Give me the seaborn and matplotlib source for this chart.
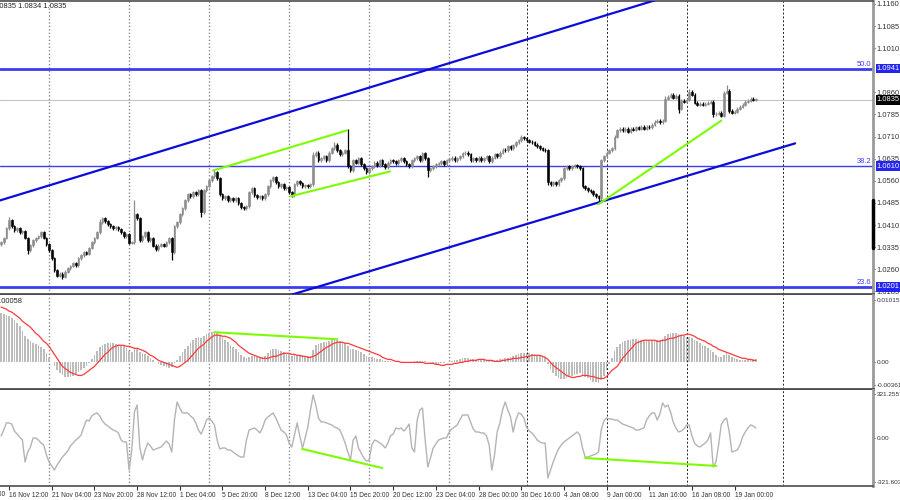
import numpy as np
import pandas as pd
import matplotlib
matplotlib.use("Agg")
import matplotlib.pyplot as plt
import matplotlib.transforms as mtransforms
import seaborn as sns

# ---- price data (H4 candles), closes in pips (1e-4) ----
first_open = 10345
close_pips = [
    10352, 10366, 10399, 10426, 10406, 10393, 10399, 10386, 10389, 10366, 10325, 10342, 10359, 10366, 10372, 10386, 10366, 10345, 10325, 10298,
    10257, 10237, 10244, 10234, 10251, 10264, 10271, 10281, 10274, 10298, 10308, 10318, 10312, 10332, 10352, 10366, 10386, 10420, 10433, 10423,
    10413, 10406, 10399, 10403, 10396, 10386, 10372, 10379, 10349, 10352, 10447, 10433, 10359, 10372, 10386, 10359, 10366, 10339, 10328, 10339,
    10345, 10339, 10352, 10366, 10318, 10406, 10420, 10447, 10467, 10494, 10514, 10508, 10521, 10514, 10528, 10453, 10528, 10541, 10562, 10575,
    10589, 10568, 10514, 10501, 10508, 10494, 10501, 10494, 10501, 10484, 10470, 10467, 10474, 10521, 10535, 10511, 10504, 10508, 10501, 10514,
    10541, 10562, 10572, 10555, 10541, 10548, 10535, 10538, 10521, 10511, 10548, 10558, 10551, 10541, 10545, 10541, 10548, 10646, 10656, 10629,
    10636, 10643, 10629, 10656, 10670, 10683, 10663, 10650, 10656, 10663, 10609, 10595, 10629, 10622, 10636, 10616, 10602, 10589, 10602, 10609,
    10622, 10612, 10629, 10616, 10606, 10622, 10629, 10626, 10619, 10629, 10636, 10626, 10616, 10609, 10629, 10636, 10643, 10629, 10653, 10636,
    10595, 10602, 10609, 10616, 10619, 10626, 10616, 10629, 10633, 10639, 10629, 10636, 10643, 10653, 10656, 10650, 10629, 10636, 10629, 10639,
    10629, 10636, 10643, 10626, 10639, 10650, 10643, 10656, 10666, 10663, 10677, 10670, 10680, 10690, 10697, 10707, 10704, 10697, 10693, 10690,
    10683, 10677, 10670, 10666, 10663, 10555, 10548, 10555, 10548, 10562, 10568, 10602, 10609, 10602, 10609, 10612, 10609, 10602, 10541, 10535,
    10528, 10524, 10514, 10508, 10501, 10629, 10643, 10656, 10663, 10670, 10710, 10731, 10737, 10731, 10737, 10727, 10737, 10734, 10741, 10737,
    10744, 10737, 10744, 10741, 10751, 10761, 10764, 10758, 10764, 10839, 10846, 10852, 10842, 10849, 10805, 10832, 10829, 10835, 10862, 10852,
    10825, 10818, 10822, 10818, 10822, 10825, 10829, 10785, 10788, 10791, 10781, 10859, 10866, 10798, 10791, 10795, 10805, 10812, 10818, 10829,
    10832, 10839, 10835, 10835,
]
# wick lengths in pips beyond the body (default for ordinary bars)
wick_default = 5
wick_hi = {3: 10, 37: 10, 50: 47, 80: 8, 117: 12, 125: 10, 130: 74, 195: 10, 249: 10, 258: 10, 272: 20}
wick_lo = {10: 12, 23: 8, 64: 27, 75: 15, 160: 22, 205: 10, 224: 17, 254: 15, 267: 8, 273: 8}

# ---- MACD (values in 1e-5) ----
macd_hist = [
    804, 787, 771, 754, 722, 689, 640, 590, 508, 426, 377, 344, 312, 295, 279, 246, 213, 148, 66, 0,
    -66, -131, -180, -213, -246, -246, -246, -230, -197, -164, -131, -98, -66, -16, 49, 115, 180, 246, 279, 295,
    312, 312, 312, 295, 295, 279, 262, 230, 180, 164, 230, 213, 164, 148, 131, 98, 66, 33, 0, -33,
    -49, -66, -82, -98, -82, -16, 33, 98, 164, 213, 262, 312, 361, 394, 410, 394, 426, 459, 476, 492,
    492, 476, 443, 410, 361, 328, 279, 246, 213, 164, 115, 82, 66, 82, 98, 98, 82, 82, 82, 98,
    148, 197, 213, 213, 197, 180, 164, 148, 131, 98, 115, 115, 115, 115, 98, 98, 98, 197, 279, 295,
    312, 328, 328, 344, 361, 377, 361, 344, 328, 312, 262, 213, 213, 197, 180, 164, 131, 98, 82, 82,
    66, 49, 49, 33, 16, 16, 16, 0, 0, 0, 0, 0, 0, 0, 0, 16, 16, 16, 16, 16,
    0, -16, -33, -33, -33, -16, -16, 0, 0, 16, 33, 33, 49, 66, 66, 66, 49, 49, 33, 33,
    33, 33, 33, 33, 33, 33, 33, 49, 49, 66, 66, 82, 98, 115, 131, 148, 148, 148, 148, 131,
    131, 115, 115, 98, 82, -33, -115, -180, -230, -262, -279, -279, -262, -246, -230, -213, -197, -180, -213, -246,
    -262, -295, -312, -328, -344, -295, -230, -131, -33, 66, 180, 246, 295, 328, 344, 361, 361, 377, 377, 361,
    361, 344, 344, 344, 344, 361, 361, 361, 377, 426, 459, 476, 476, 476, 459, 443, 426, 410, 410, 394,
    361, 344, 312, 279, 262, 230, 197, 164, 115, 82, 82, 115, 148, 115, 82, 66, 49, 33, 33, 33,
    33, 49, 49, 49,
]
macd_signal = [
    902, 886, 869, 836, 820, 787, 754, 722, 672, 640, 607, 574, 525, 476, 443, 394, 344, 312, 262, 197,
    131, 66, 0, -66, -98, -131, -164, -180, -197, -213, -213, -197, -164, -131, -98, -66, -16, 33, 82, 131,
    164, 213, 246, 262, 279, 279, 279, 262, 262, 246, 230, 230, 213, 197, 180, 148, 115, 98, 66, 33,
    16, 0, -16, -33, -49, -66, -82, -66, -33, 0, 33, 82, 131, 180, 230, 262, 295, 344, 377, 410,
    443, 443, 443, 426, 426, 410, 394, 361, 328, 279, 246, 213, 180, 148, 131, 115, 98, 82, 66, 66,
    66, 82, 98, 98, 115, 131, 148, 148, 148, 131, 131, 115, 115, 98, 98, 82, 82, 98, 115, 148,
    180, 213, 246, 262, 295, 312, 328, 328, 328, 312, 312, 295, 279, 262, 246, 230, 213, 197, 180, 164,
    148, 131, 115, 82, 66, 49, 49, 33, 16, 16, 0, 0, 0, 0, 0, 0, 0, 0, 0, -16,
    -16, -16, -16, -33, -33, -49, -49, -33, -33, -33, -16, -16, 0, 0, 16, 16, 33, 33, 33, 49,
    49, 49, 33, 33, 33, 16, 16, 16, 33, 33, 49, 49, 66, 66, 66, 82, 82, 98, 98, 115,
    115, 115, 115, 98, 82, 49, 0, -49, -82, -115, -148, -180, -213, -230, -246, -246, -230, -230, -213, -213,
    -213, -230, -230, -246, -262, -262, -262, -230, -180, -131, -98, -66, 0, 66, 115, 164, 213, 262, 312, 328,
    344, 361, 361, 361, 361, 361, 344, 344, 361, 361, 377, 394, 394, 410, 426, 443, 443, 459, 459, 443,
    426, 394, 377, 361, 344, 312, 295, 262, 246, 213, 197, 180, 164, 148, 131, 115, 98, 82, 66, 66,
    49, 49, 33, 33,
]

# ---- CCI ----
cci_vals = [
    15, 58, 110, 110, 102, 51, 29, 7, -15, -175, -102, -66, 0, 0, -15, -37, -51, -124, -175, -204,
    -234, -197, -168, -139, -117, -95, -58, -37, -15, 0, 22, 80, 131, 124, 161, 175, 183, 161, 124, 102,
    88, 73, 58, 51, 37, -15, -29, -29, -234, -88, 190, 241, -66, -161, -88, -37, -58, -88, -80, -73,
    -66, -44, -22, -44, -102, 131, 263, 219, 183, 183, 183, 161, 146, 110, 58, 29, 73, 131, 146, 124,
    95, -15, -80, -73, -73, -88, -88, -102, -117, -131, -139, -139, -15, 58, 66, 73, 58, 37, 73, 131,
    153, 168, 183, 146, 102, 58, 44, 22, -37, -66, 22, 110, 15, -73, 0, 80, 204, 314, 241, 146,
    117, 117, 110, 102, 95, 80, 73, 58, 15, -37, -102, -161, -15, 15, -73, -110, -146, -168, -161, -51,
    -15, -22, -37, -51, -73, -37, 15, 29, 73, 66, 73, 51, 73, 102, -73, -102, 131, 204, 219, -15,
    -212, -146, -73, -44, -15, -7, 0, 0, 44, 66, 80, 95, 131, 168, 168, 168, 117, 66, 44, 44,
    37, 37, 15, -51, -234, -124, 44, 110, 204, 263, 204, 153, 44, 131, 183, 175, 146, 80, 51, 37,
    15, -15, -29, -37, -37, -292, -234, -175, -124, -80, -51, -29, -15, 0, 15, 29, 44, 22, -73, -139,
    -139, -131, -124, -117, -102, 58, 124, 146, 139, 139, 131, 131, 117, 102, 95, 88, 80, 73, 58, 58,
    66, 73, 131, 161, 183, 183, 131, 175, 256, 226, 241, 190, 117, 73, 44, 51, 66, 95, 95, 15,
    -37, -58, -66, -51, -37, -15, 37, -212, -175, -51, 95, 131, 146, 44, -102, -95, -88, -51, 7, 44,
    73, 95, 88, 73,
]

# ---- axis labels / levels ----
date_labels = ["13 Nov 20:00", "16 Nov 12:00", "21 Nov 04:00", "23 Nov 20:00", "28 Nov 12:00", "1 Dec 04:00",
               "5 Dec 20:00", "8 Dec 12:00", "13 Dec 04:00", "15 Dec 20:00", "20 Dec 12:00", "23 Dec 04:00",
               "28 Dec 00:00", "30 Dec 16:00", "4 Jan 08:00", "9 Jan 00:00", "11 Jan 16:00", "16 Jan 08:00",
               "19 Jan 00:00"]
date_bars = [-13, 3, 19, 35, 51, 67, 83, 99, 115, 131, 147, 163, 179, 195, 211, 227, 243, 259, 275]
week_bars = [18, 48, 78, 108, 138, 168, 197, 227, 257, 293]
price_ticks = [1.1160, 1.1085, 1.1010, 1.0860, 1.0785, 1.0710, 1.0635, 1.0560, 1.0485,
               1.0410, 1.0335, 1.0260, 1.0185]
fibo_levels = [1.0941, 1.0610, 1.0201]
fibo_names = ["50.0", "38.2", "23.6"]
last_price = 1.0835

# drawn objects: (bar, value) end points
channel_upper = [(-2, 1.0489), (245, 1.1172)]
channel_lower = [(105, 1.0163), (297.7, 1.0687)]
green_price = [[(79.5, 1.0595), (129.7, 1.0731)],
               [(108.7, 1.0508), (145.9, 1.0592)],
               [(223.9, 1.0480), (270.0, 1.0764)]]
green_macd = [[(79.9, 0.00492), (126.0, 0.00377)]]
green_cci = [[(112.9, -80), (142.9, -219)],
             [(219.0, -146), (268.1, -204)]]

# ---------------------------------------------------------------
sns.set_style("white")
plt.rcParams['font.family'] = ['Liberation Sans', 'DejaVu Sans']

close = np.array(close_pips) / 1e4
n = len(close)
idx = np.arange(n)
opn = np.r_[first_open / 1e4, close[:-1]]
whi = np.array([wick_hi.get(i, wick_default) for i in range(n)]) / 1e4
wlo = np.array([wick_lo.get(i, wick_default) for i in range(n)]) / 1e4
high = np.maximum(opn, close) + whi
low = np.minimum(opn, close) - wlo
up = close >= opn

ind = pd.DataFrame({"bar": idx,
                    "hist": np.array(macd_hist) / 1e5,
                    "signal": np.array(macd_signal) / 1e5,
                    "cci": cci_vals})

fig = plt.figure(figsize=(9, 5), dpi=100)
W = 873 / 900
ax = fig.add_axes([0, 0.412, W, 0.586])
ax_m = fig.add_axes([0, 0.223, W, 0.187])
ax_c = fig.add_axes([0, 0.028, W, 0.192])

XMIN, XMAX = -0.4, 326.9
BULL = "#8c8c8c"
GREEN = "#7cfc00"
tick_col = "#333333"
fs = 5.4      # price-axis labels
fs_i = 4.6    # indicator-axis labels
fs_d = 4.8    # date labels

for a in (ax, ax_m, ax_c):
    a.set_xlim(XMIN, XMAX)
    a.set_facecolor("white")
    for b in week_bars:
        if b < 170:
            a.axvline(b, color="#8c8c8c", lw=1.0, ls=(0, (1, 1.5)), zorder=0)
        else:
            a.axvline(b, color="#202020", lw=0.7, ls=(0, (2, 2)), zorder=0)
    a.spines["left"].set_visible(False)
    a.spines["right"].set_color("#9a9a9a")
    a.spines["right"].set_linewidth(2)
    a.spines["top"].set_visible(False)
    a.spines["bottom"].set_color("#4d4d4d")
    a.spines["bottom"].set_linewidth(2)
    a.yaxis.tick_right()
    a.tick_params(axis="y", direction="out", length=1.5, width=0.8, pad=1.0,
                  labelsize=fs if a is ax else fs_i, colors=tick_col)
    a.tick_params(axis="x", bottom=False, labelbottom=False)
    a.grid(False)

ax.spines["top"].set_visible(True)
ax.spines["top"].set_color("#4d4d4d")
ax.spines["top"].set_linewidth(1.2)
ax_c.spines["bottom"].set_linewidth(1.2)

# ---- main price panel ----
ax.set_ylim(1.0176, 1.1170)
ax.set_yticks(price_ticks)
ax.set_yticklabels([f"{v:.4f}" for v in price_ticks])

ax.axhline(last_price, color="#c4c4c4", lw=0.8, zorder=1)
for lv, lw in zip(fibo_levels, [2.0, 1.0, 2.0]):
    ax.axhline(lv, color="#3c3cf0", lw=lw, zorder=2)

ax.vlines(idx[up], low[up], high[up], color=BULL, lw=0.9, zorder=3)
ax.vlines(idx[~up], low[~up], high[~up], color="black", lw=0.9, zorder=3)
body = np.maximum(np.abs(close - opn), 0.0002)
cols = np.where(up, BULL, "black")
ax.bar(idx, body, bottom=np.minimum(opn, close), width=0.62,
       color=cols, edgecolor=cols, linewidth=0.4, zorder=3)

for seg in (channel_upper, channel_lower):
    xs, ys = zip(*seg)
    ax.plot(xs, ys, color="#0c0cd8", lw=1.6, zorder=4)
for seg in green_price:
    xs, ys = zip(*seg)
    ax.plot(xs, ys, color=GREEN, lw=1.5, zorder=5)

ytrans = mtransforms.blended_transform_factory(ax.transAxes, ax.transData)
for lv, name in zip(fibo_levels, fibo_names):
    ax.text(0.998, lv + 0.0003, name, transform=ytrans, ha="right", va="bottom",
            fontsize=fs, color="#3c3cf0", zorder=6)
    ax.text(1.0045, lv, f"{lv:.4f}", transform=ytrans, ha="left", va="center",
            fontsize=fs, color="white", zorder=10, clip_on=False,
            bbox=dict(facecolor="#2424f0", edgecolor="none", pad=1.0))
ax.text(1.0045, last_price, f"{last_price:.4f}", transform=ytrans, ha="left", va="center",
        fontsize=fs, color="white", zorder=10, clip_on=False,
        bbox=dict(facecolor="black", edgecolor="none", pad=1.0))
ax.plot([1.0, 1.0], [(294 - 200) / 294, (294 - 248) / 294], transform=ax.transAxes,
        color="black", lw=2.5, clip_on=False, zorder=9)
ax.text(-0.008, 0.982, "1.0835 1.0834 1.0835", transform=ax.transAxes, ha="left", va="center",
        fontsize=fs, color="#222222")

# ---- MACD panel ----
ax_m.set_ylim(-0.00426, 0.01099)
ax_m.set_yticks([0.01015, 0.0, -0.00361])
ax_m.set_yticklabels(["0.01015", "0.00", "-0.00361"])
ax_m.bar(ind["bar"], ind["hist"], width=0.6, color="#bcbcbc", linewidth=0, zorder=2)
sns.lineplot(data=ind, x="bar", y="signal", ax=ax_m, color="#ff3a3a", lw=0.9,
             estimator=None, zorder=3)
for seg in green_macd:
    xs, ys = zip(*seg)
    ax_m.plot(xs, ys, color=GREEN, lw=1.5, zorder=4)
ax_m.text(-0.005, 0.93, "0.00058", transform=ax_m.transAxes, ha="left", va="center",
          fontsize=fs, color="#222222")
ax_m.set_xlabel("")
ax_m.set_ylabel("")

# ---- CCI panel ----
ax_c.set_ylim(-350.4, 350.4)
ax_c.set_yticks([321.2557, 0.0, -321.603])
ax_c.set_yticklabels(["321.2557", "0.00", "-321.603"])
sns.lineplot(data=ind, x="bar", y="cci", ax=ax_c, color="#b4b4b4", lw=1.0,
             estimator=None, zorder=3)
for seg in green_cci:
    xs, ys = zip(*seg)
    ax_c.plot(xs, ys, color=GREEN, lw=1.5, zorder=4)
ax_c.set_xlabel("")
ax_c.set_ylabel("")

# date axis
ax_c.set_xticks(date_bars[1:])
ax_c.set_xticklabels(date_labels[1:])
ax_c.tick_params(axis="x", bottom=True, labelbottom=True, direction="out", length=3,
                 width=0.8, pad=1.5, labelsize=fs_d, colors=tick_col)
for lab in ax_c.get_xticklabels():
    lab.set_ha("left")
ax_c.set_xlim(XMIN, XMAX)
xtrans = mtransforms.blended_transform_factory(ax_c.transData, ax_c.transAxes)
ax_c.text(date_bars[0], -0.055, date_labels[0], transform=xtrans, ha="left", va="top",
          fontsize=fs_d, color=tick_col, clip_on=False)

fig.savefig("out.png", dpi=100)
